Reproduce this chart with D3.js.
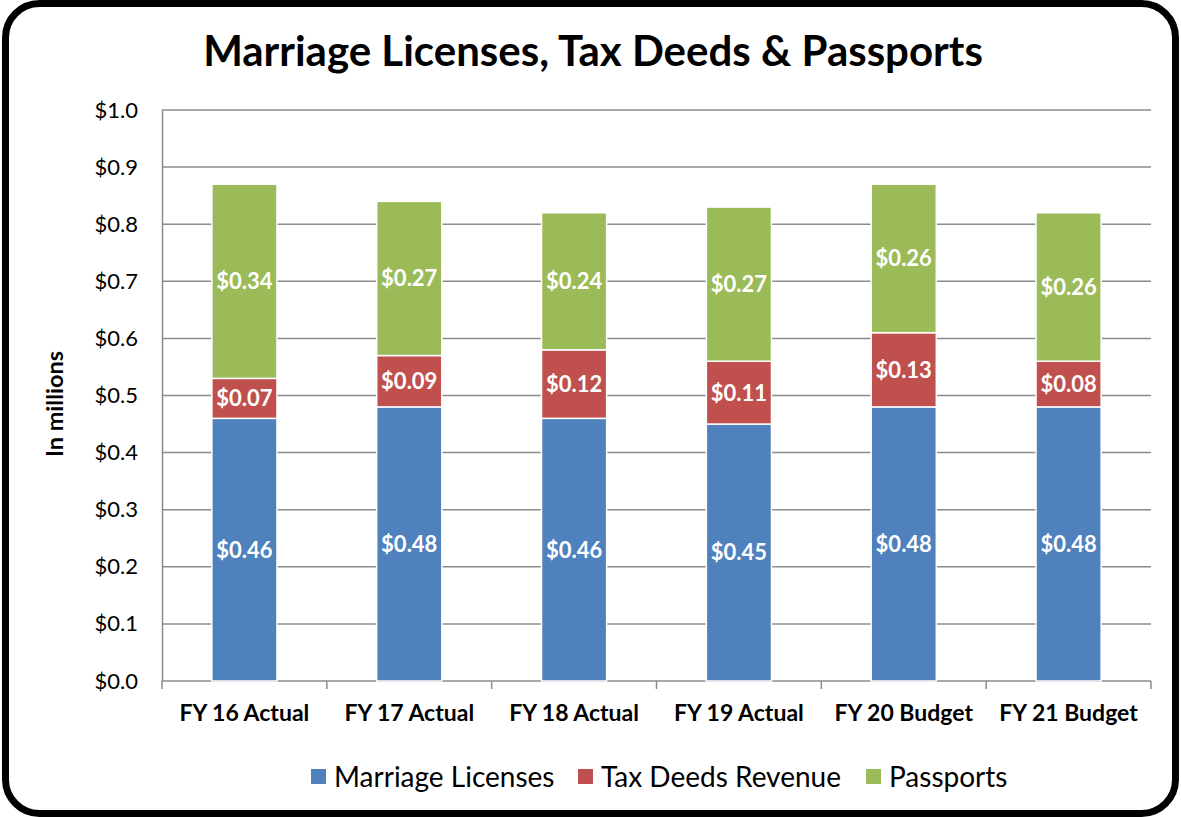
<!DOCTYPE html>
<html>
<head>
<meta charset="utf-8">
<script src="https://cdn.jsdelivr.net/npm/d3@7"></script>
<style>
  body { margin: 0; background: #fff; }
  svg { display: block; font-family: Lato, "Open Sans", sans-serif; }
</style>
</head>
<body>
<svg id="chart" width="1181" height="817"></svg>
<script>
// chart values (in millions)
let categories = ['FY 16 Actual', 'FY 17 Actual', 'FY 18 Actual', 'FY 19 Actual', 'FY 20 Budget', 'FY 21 Budget'];
let marriage = [0.46, 0.48, 0.46, 0.45, 0.48, 0.48];
let taxDeeds = [0.07, 0.09, 0.12, 0.11, 0.13, 0.08];
let passports = [0.34, 0.27, 0.24, 0.27, 0.26, 0.26];
let seriesNames = ['Marriage Licenses', 'Tax Deeds Revenue', 'Passports'];
let seriesColors = ['#4F81BD', '#C0504D', '#9BBB59'];
let yTicks = [0, 0.1, 0.2, 0.3, 0.4, 0.5, 0.6, 0.7, 0.8, 0.9, 1.0];

let rows = categories.map((c, i) => ({
    cat: c,
    'Marriage Licenses': marriage[i],
    'Tax Deeds Revenue': taxDeeds[i],
    'Passports': passports[i]
}));

let svg = d3.select('#chart');
let margin = {left: 162, right: 30, top: 110, bottom: 136};
let width = 1181, height = 817;

// outer rounded frame
svg.append('rect')
    .attr('x', 5.5).attr('y', 3.5)
    .attr('width', 1170).attr('height', 810)
    .attr('rx', 34).attr('ry', 34)
    .attr('fill', '#fff')
    .attr('stroke', '#000')
    .attr('stroke-width', 7);

svg.append('text')
    .attr('x', 593).attr('y', 66)
    .attr('text-anchor', 'middle')
    .attr('font-size', 42)
    .attr('font-weight', 'bold')
    .attr('fill', '#000')
    .text('Marriage Licenses, Tax Deeds & Passports');

let x = d3.scaleBand()
    .domain(categories)
    .range([margin.left, width - margin.right])
    .paddingInner(0.605)
    .paddingOuter(0.3025);

let y = d3.scaleLinear()
    .domain([0, 1])
    .range([height - margin.bottom, margin.top]);

// gridlines
svg.append('g')
    .selectAll('line')
    .data(yTicks)
    .enter()
    .append('line')
    .attr('x1', margin.left).attr('x2', width - margin.right)
    .attr('y1', d => y(d)).attr('y2', d => y(d))
    .attr('stroke', '#8c8c8c')
    .attr('stroke-width', 1.5);

// y axis
let yAxis = svg.append('g')
    .attr('transform', `translate(${margin.left},0)`)
    .call(d3.axisLeft(y).tickValues(yTicks).tickFormat(d => '$' + d.toFixed(1)).tickSize(0).tickPadding(24));
yAxis.select('.domain').attr('stroke', '#8c8c8c').attr('stroke-width', 1.5);
yAxis.selectAll('text').attr('font-size', 22).attr('fill', '#000').attr('font-family', 'Lato, sans-serif');

// x axis
let xAxis = svg.append('g')
    .attr('transform', `translate(0,${y(0)})`)
    .call(d3.axisBottom(x).tickSize(0).tickPadding(24));
xAxis.select('.domain').remove();
xAxis.selectAll('text')
    .attr('font-size', 23)
    .attr('font-weight', 'bold')
    .attr('fill', '#000')
    .attr('font-family', 'Lato, sans-serif');

// tick marks between categories
let step = x.step();
let bounds = d3.range(categories.length + 1).map(i => margin.left + i * step);
svg.append('g')
    .selectAll('line')
    .data(bounds)
    .enter()
    .append('line')
    .attr('x1', d => d).attr('x2', d => d)
    .attr('y1', y(0)).attr('y2', y(0) + 8)
    .attr('stroke', '#8c8c8c')
    .attr('stroke-width', 1.5);

svg.append('text')
    .attr('transform', 'translate(63,404) rotate(-90)')
    .attr('text-anchor', 'middle')
    .attr('font-size', 23.5)
    .attr('font-weight', 'bold')
    .text('In millions');

// stacked bars
let stack = d3.stack().keys(seriesNames);
let stacked = stack(rows);

let layers = svg.append('g')
    .selectAll('g')
    .data(stacked)
    .enter()
    .append('g')
    .attr('fill', (d, i) => seriesColors[i]);

layers.selectAll('rect')
    .data(d => d)
    .enter()
    .append('rect')
    .attr('x', d => x(d.data.cat))
    .attr('y', d => y(d[1]))
    .attr('width', x.bandwidth())
    .attr('height', d => y(d[0]) - y(d[1]))
    .attr('stroke', '#fff')
    .attr('stroke-width', 1.5);

layers.selectAll('text')
    .data(d => d)
    .enter()
    .append('text')
    .attr('x', d => x(d.data.cat) + x.bandwidth() / 2)
    .attr('y', d => (y(d[0]) + y(d[1])) / 2)
    .attr('dy', '0.36em')
    .attr('text-anchor', 'middle')
    .attr('font-size', 22)
    .attr('font-weight', 'bold')
    .attr('fill', '#fff')
    .text(d => '$' + (d[1] - d[0]).toFixed(2));

// legend
let legendX = [311, 578, 866];
let legend = svg.append('g')
    .selectAll('g')
    .data(seriesNames)
    .enter()
    .append('g')
    .attr('transform', (d, i) => `translate(${legendX[i]},777)`);

legend.append('rect')
    .attr('x', 0).attr('y', -8)
    .attr('width', 15).attr('height', 15)
    .attr('fill', (d, i) => seriesColors[i]);

legend.append('text')
    .attr('x', 23).attr('y', 0)
    .attr('dy', '0.35em')
    .attr('font-size', 28)
    .attr('fill', '#000')
    .text(d => d);
</script>
</body>
</html>
